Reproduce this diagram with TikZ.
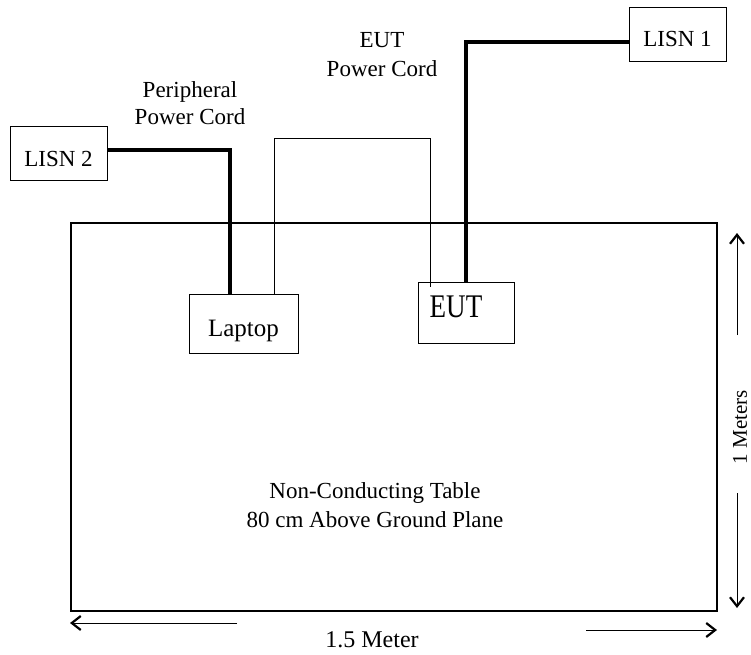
\documentclass[tikz,border=0pt]{standalone}
\usepackage{fontspec}
\setmainfont{Liberation Serif}
\newfontfamily\eutfont[FakeStretch=0.82]{Liberation Serif}
\usetikzlibrary{arrows.meta,positioning,calc}
\tikzset{
  labeltext/.style={font=\fontsize{23}{29}\selectfont, align=center, inner sep=0pt},
  devbox/.style={
    draw, line width=0.9pt, inner sep=0pt, text height=27pt, text depth=2pt,
    font=\fontsize{23}{29}\selectfont
  },
  lisnbox/.style={devbox, minimum width=97pt, minimum height=54pt},
  tablebox/.style={draw, line width=1.8pt, minimum width=646pt, minimum height=388pt, inner sep=0pt},
  cord/.style={line width=3.2pt},
  wire/.style={line width=0.9pt},
  measure/.style={line width=0.9pt, -{Straight Barb[length=9pt,width=14pt,line width=2.2pt]}}
}
\begin{document}
\begin{tikzpicture}[x=1pt, y=-1pt]
  \useasboundingbox (0,0) rectangle (751,654);
  % table and its text
  \node[tablebox] (table) at (394,417) {};
  \node[labeltext] (tablelabel) at (375,505) {Non-Conducting Table\\80 cm Above Ground Plane};
  % devices
  \node[lisnbox] (lisn1) at (677.5,34) {LISN 1};
  \node[lisnbox] (lisn2) at (58.5,153.5) {LISN 2};
  \node[devbox, minimum width=109pt, minimum height=59pt, font=\fontsize{25}{29}\selectfont, text height=28pt]
    (laptop) at (243.5,323.5) {Laptop};
  \node[devbox, minimum width=96pt, minimum height=61pt, font=\eutfont\fontsize{33}{36}\selectfont,
    text height=22pt, text depth=13pt]
    (eut) at (466,312.5) {EUT\kern20pt};
  % cord labels
  \node[labeltext] (eutcord) at (382,55) {EUT\\Power Cord};
  \node[labeltext, font=\fontsize{23}{27}\selectfont] (pericord) at (190,103) {Peripheral\\Power Cord};
  % power cords
  \draw[cord] ([yshift=3.5pt]lisn2.east) -| ([xshift=-13.5pt]laptop.north);
  \draw[cord] ([yshift=-8pt]lisn1.west) -| (eut.north);
  % laptop to EUT cable
  \coordinate (loopturn) at (430,138);
  \draw[wire] ([xshift=30.5pt]laptop.north) |- (loopturn) -- ([xshift=-36pt,yshift=-5pt]eut.north);
  % dimensions
  \node[labeltext, font=\fontsize{21}{26}\selectfont, rotate=90] (height) at (740,427) {1 Meters};
  \coordinate (htop) at (737,233);
  \coordinate (hbot) at (737,608);
  \draw[measure] (737,335) -- (htop);
  \draw[measure] (737,493) -- (hbot);
  \node[labeltext, font=\fontsize{24}{28}\selectfont, anchor=base] (width) at (372,647) {1.5 Meter};
  \coordinate (wleft) at (70,623);
  \coordinate (wright) at (717,630);
  \draw[measure] (237,623) -- (wleft);
  \draw[measure] (586,630) -- (wright);
\end{tikzpicture}
\end{document}
